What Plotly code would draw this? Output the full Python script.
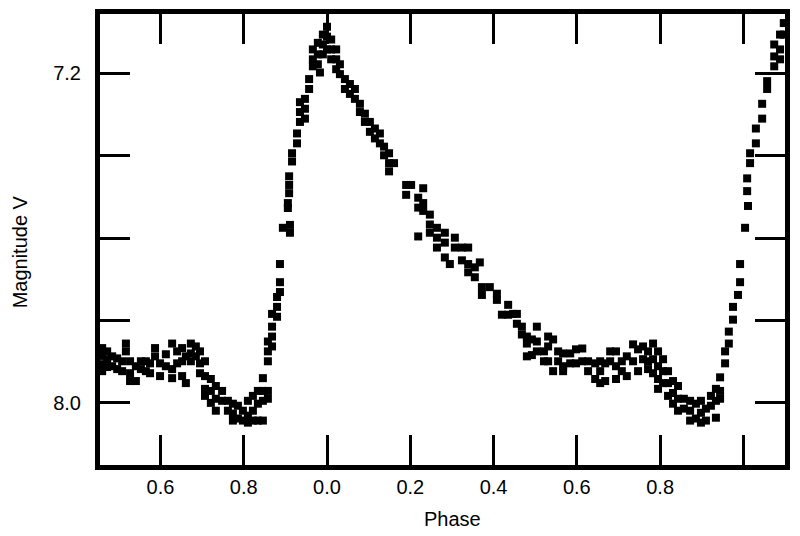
import plotly.graph_objects as go

# Phase columns (continuous phase; values > 1 / < 0 wrap in the labels) and
# the V magnitudes observed in each column, read from the reference picture.
phase_cols = [
    -0.540, -0.528, -0.516, -0.504, -0.492, -0.483, -0.473, -0.459, -0.447, -0.435,
    -0.425, -0.413, -0.401, -0.387, -0.372, -0.360, -0.348, -0.339, -0.327, -0.315,
    -0.305, -0.293, -0.279, -0.267, -0.252, -0.238, -0.226, -0.214, -0.202, -0.190,
    -0.178, -0.166, -0.154, -0.142, -0.132, -0.120, -0.113, -0.106, -0.094, -0.091,
    -0.089, -0.084, -0.072, -0.065, -0.053, -0.043, -0.034, -0.022, -0.017, -0.010,
    0.000, 0.010, 0.022, 0.031, 0.043, 0.055, 0.067, 0.079, 0.091, 0.103,
    0.115, 0.127, 0.137, 0.149, 0.161, 0.190, 0.202, 0.219, 0.231, 0.247,
    0.264, 0.283, 0.295, 0.307, 0.324, 0.339, 0.355, 0.367, 0.372, 0.391,
    0.408, 0.420, 0.435, 0.447, 0.456, 0.468, 0.480, 0.492, 0.504, 0.521,
    0.531, 0.543, 0.555, 0.567, 0.584, 0.598, 0.613, 0.627, 0.644, 0.656,
    0.668, 0.680, 0.694, 0.708, 0.720, 0.735, 0.747, 0.759, 0.771, 0.783,
    0.795, 0.807, 0.819, 0.831, 0.843, 0.857, 0.872, 0.886, 0.898, 0.910,
    0.922, 0.934, 0.944, 0.956, 0.965, 0.975, 0.987, 0.992, 1.004, 1.009,
    1.011, 1.016, 1.030, 1.045, 1.057, 1.074, 1.088, 1.097,
]

mag_cols = [
    [7.867, 7.886, 7.906, 7.923], [7.875, 7.894, 7.913], [7.887, 7.911], [7.892, 7.918],
    [7.899, 7.923], [7.856, 7.875], [7.899, 7.928, 7.947], [7.911, 7.947], [7.899, 7.918],
    [7.899, 7.923],
    [7.904, 7.928], [7.867, 7.887], [7.904, 7.935], [7.882, 7.911], [7.856, 7.918, 7.940],
    [7.875, 7.904], [7.867, 7.899, 7.935], [7.887, 7.952], [7.856, 7.880, 7.899],
    [7.863, 7.887],
    [7.875, 7.904, 7.928], [7.899, 7.935, 7.966, 7.983], [7.942, 7.971, 8.000],
    [7.959, 7.990, 8.019], [7.971, 7.995], [7.995, 8.019], [8.002, 8.026, 8.043],
    [8.007, 8.038], [8.019, 8.043], [7.995, 8.031, 8.048],
    [7.983, 8.019, 8.043], [7.971, 8.002, 8.043], [7.940, 7.971, 7.995, 8.043],
    [7.851, 7.875, 7.899, 7.971, 7.990], [7.784, 7.815, 7.839, 7.863],
    [7.743, 7.767, 7.791], [7.663, 7.707, 7.731], [7.575], [7.515, 7.527],
    [7.450, 7.471, 7.491],
    [7.568, 7.587], [7.394, 7.414], [7.346, 7.370], [7.270, 7.294, 7.318],
    [7.262, 7.286, 7.310], [7.214, 7.238], [7.142, 7.166, 7.183], [7.126, 7.154, 7.178],
    [7.198], [7.106, 7.130, 7.154],
    [7.087, 7.111, 7.142], [7.118, 7.142, 7.166], [7.142, 7.166, 7.190], [7.178, 7.202],
    [7.214, 7.238], [7.226, 7.250], [7.238, 7.262], [7.274, 7.294], [7.298, 7.318],
    [7.318, 7.342],
    [7.334, 7.358], [7.346, 7.370], [7.378, 7.399], [7.394, 7.418, 7.438], [7.418],
    [7.471, 7.495], [7.471], [7.502, 7.526, 7.596], [7.479, 7.515, 7.534],
    [7.543, 7.567, 7.587],
    [7.575, 7.599, 7.623], [7.587, 7.611, 7.647], [7.663], [7.599, 7.623],
    [7.623, 7.654], [7.623, 7.663, 7.683], [7.671, 7.695], [7.659], [7.719, 7.738],
    [7.719],
    [7.735, 7.750], [7.786], [7.762, 7.786], [7.784], [7.784, 7.808], [7.815, 7.834],
    [7.839, 7.856, 7.887], [7.846, 7.884], [7.815, 7.851, 7.875], [7.875, 7.899],
    [7.839, 7.863, 7.899], [7.846, 7.923], [7.875, 7.899], [7.880, 7.911, 7.923],
    [7.880, 7.904], [7.870, 7.904], [7.868, 7.899], [7.899, 7.923], [7.904, 7.942],
    [7.899, 7.923, 7.952],
    [7.904, 7.947], [7.875, 7.899], [7.875, 7.911, 7.942], [7.899, 7.923],
    [7.887, 7.935], [7.858, 7.899], [7.870, 7.923], [7.863, 7.894],
    [7.875, 7.899, 7.918], [7.856, 7.894, 7.928],
    [7.875, 7.911, 7.942, 7.966], [7.894, 7.923, 7.952], [7.923, 7.952, 7.983],
    [7.947, 7.976, 8.002], [7.959, 7.990, 8.019], [7.990, 8.014], [7.995, 8.019, 8.043],
    [8.002, 8.038], [7.995, 8.024, 8.048], [8.014, 8.043],
    [7.983, 8.007], [7.966, 7.995, 8.036], [7.938, 7.971, 7.990], [7.875, 7.904],
    [7.827, 7.856], [7.767, 7.798], [7.738], [7.663, 7.707], [7.575], [7.455, 7.486],
    [7.522], [7.394, 7.418], [7.334, 7.370], [7.274, 7.310], [7.219, 7.238],
    [7.130, 7.159, 7.183], [7.106, 7.142, 7.166], [7.078, 7.106],
]

x_tick_vals = [-0.4, -0.2, 0.0, 0.2, 0.4, 0.6, 0.8, 1.0]
x_tick_text = ["0.6", "0.8", "0.0", "0.2", "0.4", "0.6", "0.8", ""]
y_tick_vals = [7.2, 7.4, 7.6, 7.8, 8.0]
y_tick_text = ["7.2", "", "", "", "8.0"]

phase = []
mag = []
for p, ms in zip(phase_cols, mag_cols):
    for m in ms:
        phase.append(p)
        mag.append(m)

FONT = "Liberation Sans, Arial, sans-serif"

fig = go.Figure()
fig.add_trace(go.Scatter(
    x=phase, y=mag, mode="markers",
    marker=dict(symbol="square", size=8, color="black", line=dict(width=0)),
    hoverinfo="x+y", showlegend=False,
))

axis_common = dict(
    showline=True, linecolor="black", linewidth=5, mirror="allticks",
    ticks="inside", ticklen=30, tickwidth=3, tickcolor="black",
    showgrid=False, zeroline=False,
    tickfont=dict(family=FONT, size=20, color="black"),
)

fig.update_layout(
    width=800, height=536,
    margin=dict(l=100, r=15, t=9, b=71),
    paper_bgcolor="white", plot_bgcolor="white",
    xaxis=dict(range=[-0.5452, 1.0999], tickmode="array",
               tickvals=x_tick_vals, ticktext=x_tick_text, **axis_common),
    yaxis=dict(range=[8.1508, 7.056], tickmode="array",
               tickvals=y_tick_vals, ticktext=y_tick_text, ticklabelstandoff=10,
               **axis_common),
    annotations=[
        dict(text="Phase", xref="paper", yref="paper", x=(452 - 100) / 685,
             y=(536 - 71 - 520) / 456, showarrow=False, xanchor="center", yanchor="middle",
             font=dict(family=FONT, size=20, color="black")),
        dict(text="Magnitude V", xref="paper", yref="paper", x=(20 - 100) / 685,
             y=(465 - 250) / 456, showarrow=False, xanchor="center", yanchor="middle",
             textangle=-90, font=dict(family=FONT, size=20, color="black")),
    ],
)

fig.write_html(
    "out.html",
    config={"displayModeBar": False},
    post_script="document.body.style.margin='0';document.body.style.overflow='hidden';",
)
